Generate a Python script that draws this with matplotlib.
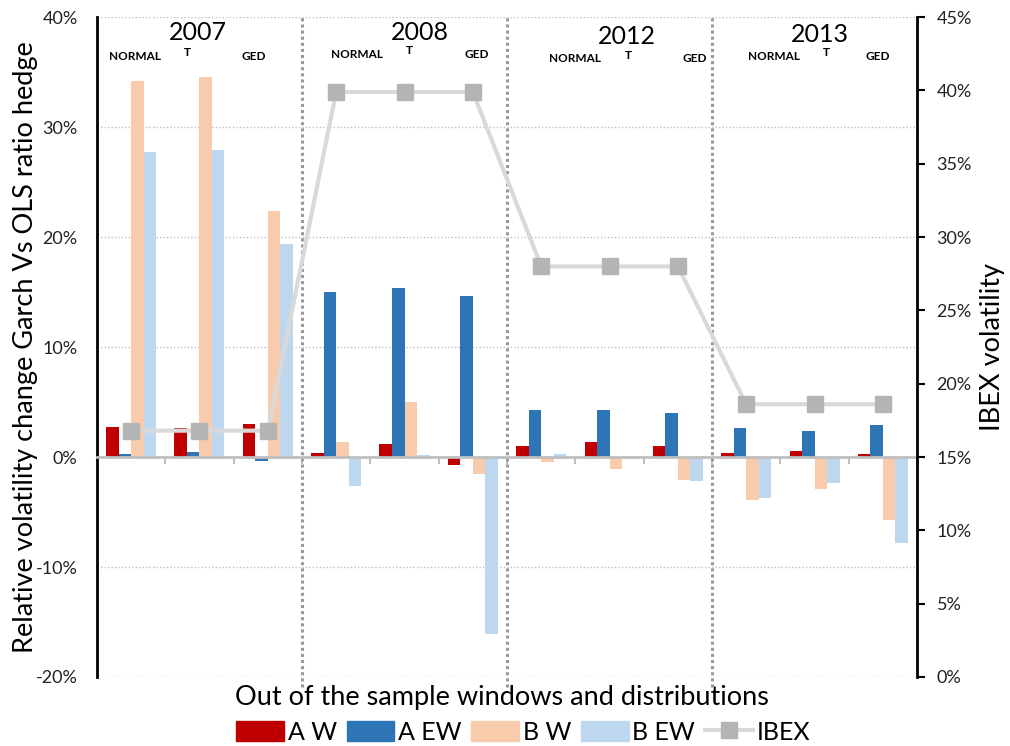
import matplotlib
matplotlib.use("Agg")
import matplotlib.pyplot as plt
from matplotlib.lines import Line2D
from matplotlib.patches import Patch
import numpy as np

plt.rcParams['font.family'] = ['Lato', 'DejaVu Sans']

years = ["2007", "2008", "2012", "2013"]
dists = ["NORMAL", "T", "GED"]
a_w = [2.7, 2.6, 3.0, 0.35, 1.15, -0.75, 1.0, 1.4, 1.05, 0.35, 0.55, 0.25]
a_ew = [0.3, 0.5, -0.4, 15.0, 15.4, 14.6, 4.3, 4.3, 4.05, 2.6, 2.35, 2.9]
b_w = [34.2, 34.6, 22.4, 1.4, 5.0, -1.5, -0.45, -1.1, -2.1, -3.9, -2.9, -5.7]
b_ew = [27.7, 27.9, 19.4, -2.6, 0.15, -16.1, 0.25, 0.05, -2.2, -3.7, -2.35, -7.85]
ibex = [16.8, 16.8, 16.8, 39.9, 39.9, 39.9, 28.0, 28.0, 28.0, 18.6, 18.6, 18.6]

# annotation anchor positions (data coords) for year / distribution labels
year_x = [0.98, 4.23, 7.26, 10.08]
year_y = [38.6, 38.6, 38.2, 38.45]
dist_x = [[0.06, 0.82, 1.80], [3.30, 4.07, 5.06], [6.50, 7.27, 8.25], [9.41, 10.18, 10.93]]
dist_y = [[36.4, 36.8, 36.4], [36.6, 36.95, 36.6], [36.2, 36.5, 36.2], [36.4, 36.75, 36.4]]

series = [("A W", a_w, "#C00000"), ("A EW", a_ew, "#2E75B6"),
          ("B W", b_w, "#F8CBAD"), ("B EW", b_ew, "#BDD7EE")]

fig = plt.figure(figsize=(10.1, 7.46), dpi=100)
ax = fig.add_axes([0.096, 0.0925, 0.812, 0.8845])
n = len(a_w)
x = np.arange(n)
w = 0.183
for i, (name, vals, col) in enumerate(series):
    ax.bar(x + (i - 1.5) * w, vals, width=w, color=col, zorder=3, label=name)

ax.set_xlim(-0.5, n - 0.5)
ax.set_ylim(-20, 40)
ax.set_yticks(np.arange(-20, 41, 10))
ax.set_yticklabels([f"{v}%" for v in range(-20, 41, 10)], fontsize=13, color="#222222")
ax.tick_params(axis='y', length=0, pad=14)
ax.yaxis.grid(True, linestyle=(0, (1, 1.5)), color="#BFBFBF", linewidth=1, zorder=0)
ax.set_axisbelow(True)

for s in ['top', 'right']:
    ax.spines[s].set_visible(False)
ax.spines['left'].set_linewidth(2)
ax.spines['bottom'].set_position(('data', 0))
ax.spines['bottom'].set_color("#BFBFBF")
ax.spines['bottom'].set_linewidth(2)
ax.spines['bottom'].set_zorder(4)
ax.set_xticks(np.arange(-0.5, n, 1.0))
ax.set_xticklabels([])
ax.tick_params(axis='x', direction='out', length=5, width=1.5, color="#BFBFBF")

ax.set_ylabel("Relative volatility change Garch Vs OLS ratio hedge", fontsize=19.5, labelpad=-2)
fig.text(0.497, 1 - 697 / 746, "Out of the sample windows and distributions",
         ha='center', va='center', fontsize=19.5)

for b in [2.5, 5.5, 8.5]:
    ax.axvline(b, ymin=-0.015, ymax=1, color="#999999", linestyle=(0, (1, 1)),
               linewidth=2.2, zorder=2, clip_on=False)

for yi, yr in enumerate(years):
    ax.text(year_x[yi], year_y[yi], yr, ha='center', va='center', fontsize=18)
    for di, d in enumerate(dists):
        ax.text(dist_x[yi][di], dist_y[yi][di], d, ha='center', va='center',
                fontsize=8.5, fontweight='bold')

ax2 = ax.twinx()
ax2.set_ylim(0, 45)
ax2.plot(x, ibex, color="#D9D9D9", linewidth=3, marker='s', markersize=11,
         markerfacecolor="#B4B4B4", markeredgecolor="#B4B4B4", zorder=5)
ax2.set_yticks(np.arange(0, 46, 5))
ax2.set_yticklabels([f"{v}%" for v in range(0, 46, 5)], fontsize=13, color="#222222")
ax2.tick_params(axis='y', direction='out', length=6, width=1.5, pad=8)
for s in ['top', 'left', 'bottom']:
    ax2.spines[s].set_visible(False)
ax2.spines['right'].set_linewidth(2)
ax2.set_ylabel("IBEX volatility", fontsize=19.5, labelpad=6)

handles = [Patch(color=c, label=nm) for nm, _, c in series]
handles.append(Line2D([0], [0], color="#D9D9D9", linewidth=3, marker='s', markersize=11,
                      markerfacecolor="#B4B4B4", markeredgecolor="#B4B4B4", label="IBEX"))
fig.legend(handles=handles, loc='center', bbox_to_anchor=(0.518, 1 - 732 / 746), ncol=5,
           frameon=False, fontsize=18, handlelength=1.9, handleheight=0.9,
           handletextpad=0.15, columnspacing=0.4, borderpad=0)

fig.savefig("out.png", dpi=100)
